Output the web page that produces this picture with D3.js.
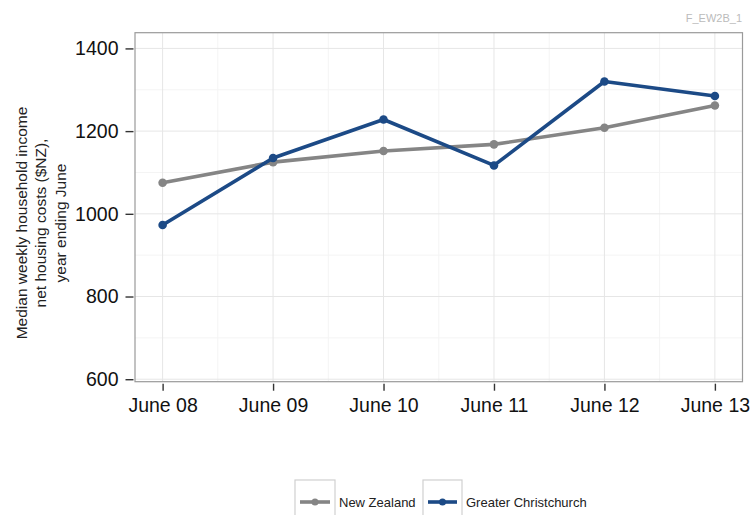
<!DOCTYPE html>
<html><head><meta charset="utf-8">
<script src="https://cdn.jsdelivr.net/npm/d3@7"></script>
<style>body{margin:0;background:#fff}svg{display:block;font-family:"Liberation Sans",Arial,sans-serif}</style>
</head><body>
<script>
const categories = ["June 08","June 09","June 10","June 11","June 12","June 13"];
const nzValues = [1075,1125,1152,1168,1208,1262];
const gcValues = [973,1135,1228,1117,1320,1285];
const seriesNames = ["New Zealand","Greater Christchurch"];
const seriesColors = ["#858585","#1c4a86"];
const yTicks = [600,800,1000,1200,1400];
const yMinor = [700,900,1100,1300];

const W=754,H=515;
const svg=d3.select("body").append("svg").attr("width",W).attr("height",H);
const L=135,R=742.5,T=32.7,B=381.7;
const x=d3.scaleLinear().domain([-0.25,categories.length-1+0.25]).range([L,R]);
const y=d3.scaleLinear().domain([594,1438]).range([B,T]);

// grid
const g=svg.append("g");
g.selectAll(".ymin").data(yMinor).join("line").attr("class","ymin").attr("x1",L).attr("x2",R).attr("y1",d=>y(d)).attr("y2",d=>y(d)).attr("stroke","#f4f4f4").attr("stroke-width",1);
g.selectAll(".xmin").data(d3.range(0.5,categories.length-1,1)).join("line").attr("class","xmin").attr("y1",T).attr("y2",B).attr("x1",d=>x(d)).attr("x2",d=>x(d)).attr("stroke","#f4f4f4").attr("stroke-width",1);
g.selectAll(".ymaj").data(yTicks).join("line").attr("class","ymaj").attr("x1",L).attr("x2",R).attr("y1",d=>y(d)).attr("y2",d=>y(d)).attr("stroke","#e6e6e6").attr("stroke-width",1);
g.selectAll(".xmaj").data(categories).join("line").attr("class","xmaj").attr("y1",T).attr("y2",B).attr("x1",(d,i)=>x(i)).attr("x2",(d,i)=>x(i)).attr("stroke","#e6e6e6").attr("stroke-width",1);

// border
svg.append("rect").attr("x",L).attr("y",T).attr("width",R-L).attr("height",B-T).attr("fill","none").attr("stroke","#9a9a9a").attr("stroke-width",1.2);

// axes
const yAxis=d3.axisLeft(y).tickValues(yTicks).tickFormat(d3.format("d")).tickSize(8).tickPadding(7);
const ya=svg.append("g").attr("transform",`translate(${L-1.5},0)`).call(yAxis);
ya.select(".domain").remove();
ya.selectAll("line").attr("stroke","#333").attr("stroke-width",1.4);
ya.selectAll("text").attr("font-size","19.5px").attr("fill","#111").attr("font-family","'Liberation Sans',Arial,sans-serif");

const xAxis=d3.axisBottom(x).tickValues(d3.range(categories.length)).tickFormat(i=>categories[i]).tickSize(7).tickPadding(7);
const xa=svg.append("g").attr("transform",`translate(0,${B+2})`).call(xAxis);
xa.select(".domain").remove();
xa.selectAll("line").attr("stroke","#333").attr("stroke-width",1.4);
xa.selectAll("text").attr("font-size","19.5px").attr("fill","#111").attr("font-family","'Liberation Sans',Arial,sans-serif");

// y title
const tl=["Median weekly household income","net housing costs ($NZ),","year ending June"];
const yt=svg.append("g");
tl.forEach((t,i)=>{
  yt.append("text").attr("transform",`translate(${26.5+i*19.5},223) rotate(-90)`).attr("text-anchor","middle").attr("font-size","15.5px").attr("fill","#222").text(t);
});

// lines
const line=d3.line().x((d,i)=>x(i)).y(d=>y(d));
[nzValues,gcValues].forEach((vals,k)=>{
  svg.append("path").datum(vals).attr("d",line).attr("fill","none").attr("stroke",seriesColors[k]).attr("stroke-width",3.6).attr("stroke-linejoin","round");
  svg.append("g").selectAll("circle").data(vals).join("circle").attr("cx",(d,i)=>x(i)).attr("cy",d=>y(d)).attr("r",4.3).attr("fill",seriesColors[k]);
});

// tag
svg.append("text").attr("x",742).attr("y",22).attr("text-anchor","end").attr("font-size","11px").attr("fill","#bbb").text("F_EW2B_1");

// legend
const leg=[{bx:295,bw:40,tx:339},{bx:423,bw:39,tx:466}];
leg.forEach((l,k)=>{
  svg.append("rect").attr("x",l.bx).attr("y",480).attr("width",l.bw).attr("height",45).attr("fill","#fff").attr("stroke","#d0d0d0").attr("stroke-width",1.2);
  svg.append("line").attr("x1",l.bx+5).attr("x2",l.bx+l.bw-5).attr("y1",502).attr("y2",502).attr("stroke",seriesColors[k]).attr("stroke-width",3.6);
  svg.append("circle").attr("cx",l.bx+l.bw/2).attr("cy",502).attr("r",3.5).attr("fill",seriesColors[k]);
  svg.append("text").attr("x",l.tx).attr("y",506.5).attr("font-size","13px").attr("fill","#222").text(seriesNames[k]);
});
</script>
</body></html>
